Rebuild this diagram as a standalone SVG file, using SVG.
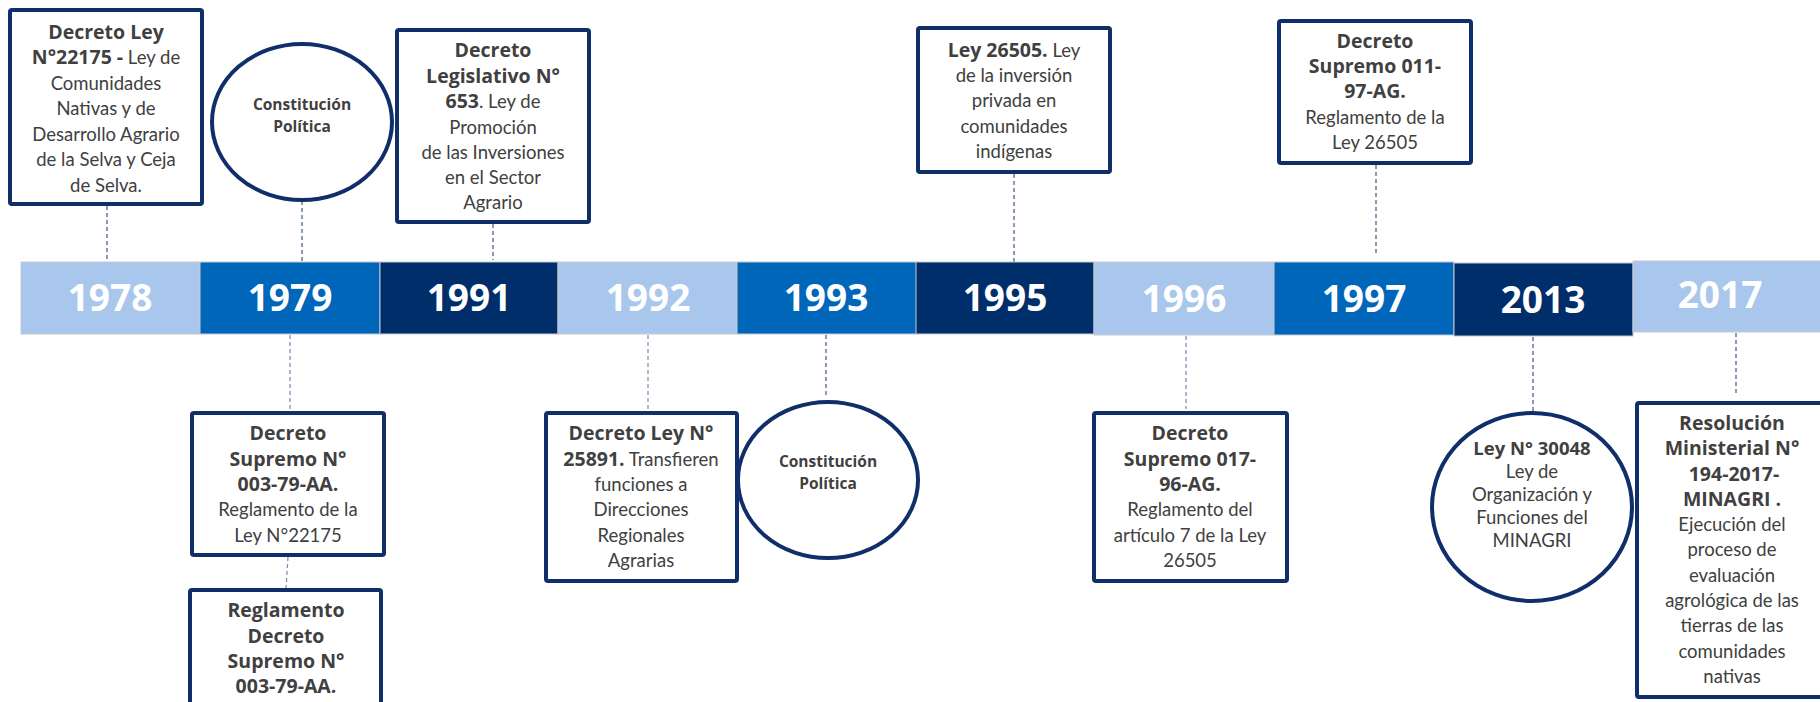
<svg xmlns="http://www.w3.org/2000/svg" width="1820" height="702" viewBox="0 0 1820 702">
  <style>
    .box { fill: #ffffff; stroke: #0f2e6a; stroke-width: 4; }
    .oval { fill: #ffffff; stroke: #0f2e6a; stroke-width: 4; }
    .t { font-family: Lato, "Liberation Sans", sans-serif; font-size: 18.5px; fill: #404040; text-anchor: middle; }
    .b { font-family: "Open Sans", "Liberation Sans", sans-serif; font-weight: 700; font-size: 19.5px; fill: #404040; }
    .cb { font-family: "Open Sans", "Liberation Sans", sans-serif; font-weight: 700; font-size: 15.5px; fill: #404040; text-anchor: middle; }
    .yr { font-family: "Open Sans", "Liberation Sans", sans-serif; font-weight: 700; font-size: 37px; fill: #ffffff; text-anchor: middle; }
    .light { fill: #a9c7ec; stroke: #c6c9cf; stroke-width: 1; }
    .mid { fill: #0066b9; stroke: #c6c9cf; stroke-width: 1; }
    .dark { fill: #002e6a; stroke: #c6c9cf; stroke-width: 1; }
    .dash { fill: none; stroke: #3d5686; stroke-width: 1.2; stroke-dasharray: 4 3; }
    .dashp { fill: none; stroke: #8d7fab; stroke-width: 1.2; stroke-dasharray: 4 3; }
  </style>

  <!-- dashed leaders between the year bar and the notes -->
  <g id="connectors">
    <line class="dash" x1="107" y1="206" x2="107" y2="264"/>
    <line class="dash" x1="302" y1="201" x2="302" y2="262"/>
    <line class="dash" x1="493" y1="224" x2="493" y2="260"/>
    <line class="dash" x1="1014" y1="174" x2="1014" y2="262"/>
    <line class="dash" x1="1376" y1="165" x2="1376" y2="254"/>
    <line class="dashp" x1="290" y1="335" x2="290" y2="410"/>
    <line class="dashp" x1="288" y1="557" x2="286" y2="589"/>
    <line class="dashp" x1="648" y1="335" x2="648" y2="409"/>
    <line class="dash" x1="826" y1="335" x2="826" y2="398"/>
    <line class="dashp" x1="1186" y1="336" x2="1186" y2="409"/>
    <line class="dash" x1="1533" y1="337" x2="1533" y2="412"/>
    <line class="dash" x1="1736" y1="333" x2="1736" y2="396"/>
  </g>

  <!-- year bar -->
  <g id="timeline">
    <g id="y1978"><rect class="light" x="21" y="262" width="179" height="72"/><text class="yr" x="110" y="311">1978</text></g>
    <g id="y1979"><rect class="mid" x="200" y="262" width="180" height="72"/><text class="yr" x="290" y="311">1979</text></g>
    <g id="y1991"><rect class="dark" x="380" y="262" width="178" height="72"/><text class="yr" x="469" y="311">1991</text></g>
    <g id="y1992"><rect class="light" x="558" y="262" width="179" height="72"/><text class="yr" x="648" y="311">1992</text></g>
    <g id="y1993"><rect class="mid" x="737" y="262" width="180" height="72"/><text class="yr" x="826" y="311">1993</text></g>
    <g id="y1995"><rect class="dark" x="916" y="262" width="178" height="72"/><text class="yr" x="1005" y="311">1995</text></g>
    <g id="y1996"><rect class="light" x="1094" y="262" width="180" height="73"/><text class="yr" x="1184" y="312">1996</text></g>
    <g id="y1997"><rect class="mid" x="1274" y="262" width="180" height="73"/><text class="yr" x="1364" y="312">1997</text></g>
    <g id="y2013"><rect class="dark" x="1454" y="263" width="179" height="73"/><text class="yr" x="1543" y="313">2013</text></g>
    <g id="y2017"><rect class="light" x="1633" y="261" width="190" height="71"/><text class="yr" x="1720" y="308">2017</text></g>
  </g>

  <g id="n1978">
    <rect class="box" x="10" y="10" width="192" height="194" rx="2"/>
    <text class="t" x="106" y="39"><tspan class="b">Decreto Ley</tspan></text>
    <text class="t" x="106" y="64"><tspan class="b">N°22175 -</tspan> Ley de</text>
    <text class="t" x="106" y="89.5">Comunidades</text>
    <text class="t" x="106" y="115">Nativas y de</text>
    <text class="t" x="106" y="140.5">Desarrollo Agrario</text>
    <text class="t" x="106" y="166">de la Selva y Ceja</text>
    <text class="t" x="106" y="191.5">de Selva.</text>
  </g>

  <g id="n1979a">
    <ellipse class="oval" cx="302" cy="122" rx="90" ry="78"/>
    <text class="cb" x="302" y="110">Constitución</text>
    <text class="cb" x="302" y="132">Política</text>
  </g>

  <g id="n1991">
    <rect class="box" x="397" y="30" width="192" height="192" rx="2"/>
    <text class="t" x="493" y="57"><tspan class="b">Decreto</tspan></text>
    <text class="t" x="493" y="83"><tspan class="b">Legislativo N°</tspan></text>
    <text class="t" x="493" y="108"><tspan class="b">653</tspan>. Ley de</text>
    <text class="t" x="493" y="133.5">Promoción</text>
    <text class="t" x="493" y="159">de las Inversiones</text>
    <text class="t" x="493" y="184">en el Sector</text>
    <text class="t" x="493" y="209">Agrario</text>
  </g>

  <g id="n1995">
    <rect class="box" x="918" y="28" width="192" height="144" rx="2"/>
    <text class="t" x="1014" y="57"><tspan class="b">Ley 26505.</tspan> Ley</text>
    <text class="t" x="1014" y="82">de la inversión</text>
    <text class="t" x="1014" y="107">privada en</text>
    <text class="t" x="1014" y="132.5">comunidades</text>
    <text class="t" x="1014" y="157.5">indígenas</text>
  </g>

  <g id="n1997">
    <rect class="box" x="1279" y="21" width="192" height="142" rx="2"/>
    <text class="t" x="1375" y="48"><tspan class="b">Decreto</tspan></text>
    <text class="t" x="1375" y="73"><tspan class="b">Supremo 011-</tspan></text>
    <text class="t" x="1375" y="98"><tspan class="b">97-AG.</tspan></text>
    <text class="t" x="1375" y="123.5">Reglamento de la</text>
    <text class="t" x="1375" y="149">Ley 26505</text>
  </g>

  <g id="n1979b">
    <rect class="box" x="192" y="413" width="192" height="142" rx="2"/>
    <text class="t" x="288" y="440"><tspan class="b">Decreto</tspan></text>
    <text class="t" x="288" y="466"><tspan class="b">Supremo N°</tspan></text>
    <text class="t" x="288" y="491"><tspan class="b">003-79-AA.</tspan></text>
    <text class="t" x="288" y="516">Reglamento de la</text>
    <text class="t" x="288" y="541.5">Ley N°22175</text>
  </g>

  <g id="n1979c">
    <rect class="box" x="190" y="590" width="191" height="130" rx="2"/>
    <text class="t" x="286" y="617"><tspan class="b">Reglamento</tspan></text>
    <text class="t" x="286" y="642.5"><tspan class="b">Decreto</tspan></text>
    <text class="t" x="286" y="668"><tspan class="b">Supremo N°</tspan></text>
    <text class="t" x="286" y="693"><tspan class="b">003-79-AA.</tspan></text>
  </g>

  <g id="n1992">
    <rect class="box" x="546" y="413" width="191" height="168" rx="2"/>
    <text class="t" x="641" y="440"><tspan class="b">Decreto Ley N°</tspan></text>
    <text class="t" x="641" y="466"><tspan class="b">25891.</tspan> Transfieren</text>
    <text class="t" x="641" y="491">funciones a</text>
    <text class="t" x="641" y="516">Direcciones</text>
    <text class="t" x="641" y="541.5">Regionales</text>
    <text class="t" x="641" y="566.5">Agrarias</text>
  </g>

  <g id="n1993">
    <ellipse class="oval" cx="828" cy="480" rx="90" ry="78"/>
    <text class="cb" x="828" y="467">Constitución</text>
    <text class="cb" x="828" y="489">Política</text>
  </g>

  <g id="n1996">
    <rect class="box" x="1094" y="413" width="193" height="168" rx="2"/>
    <text class="t" x="1190" y="440"><tspan class="b">Decreto</tspan></text>
    <text class="t" x="1190" y="466"><tspan class="b">Supremo 017-</tspan></text>
    <text class="t" x="1190" y="491"><tspan class="b">96-AG.</tspan></text>
    <text class="t" x="1190" y="516">Reglamento del</text>
    <text class="t" x="1190" y="541.5">artículo 7 de la Ley</text>
    <text class="t" x="1190" y="566.5">26505</text>
  </g>

  <g id="n2013">
    <ellipse class="oval" cx="1532" cy="507" rx="100" ry="94"/>
    <text class="t" x="1532" y="455"><tspan class="b" style="font-size:18.5px">Ley N° 30048</tspan></text>
    <text class="t" x="1532" y="478">Ley de</text>
    <text class="t" x="1532" y="501">Organización y</text>
    <text class="t" x="1532" y="523.5">Funciones del</text>
    <text class="t" x="1532" y="547">MINAGRI</text>
  </g>

  <g id="n2017">
    <rect class="box" x="1637" y="403" width="190" height="294" rx="2"/>
    <text class="t" x="1732" y="430"><tspan class="b">Resolución</tspan></text>
    <text class="t" x="1732" y="455"><tspan class="b">Ministerial N°</tspan></text>
    <text class="t" x="1734" y="481"><tspan class="b">194-2017-</tspan></text>
    <text class="t" x="1732" y="506"><tspan class="b">MINAGRI .</tspan></text>
    <text class="t" x="1732" y="531">Ejecución del</text>
    <text class="t" x="1732" y="556">proceso de</text>
    <text class="t" x="1732" y="581.5">evaluación</text>
    <text class="t" x="1732" y="607">agrológica de las</text>
    <text class="t" x="1732" y="632">tierras de las</text>
    <text class="t" x="1732" y="657.5">comunidades</text>
    <text class="t" x="1732" y="683">nativas</text>
  </g>
</svg>
